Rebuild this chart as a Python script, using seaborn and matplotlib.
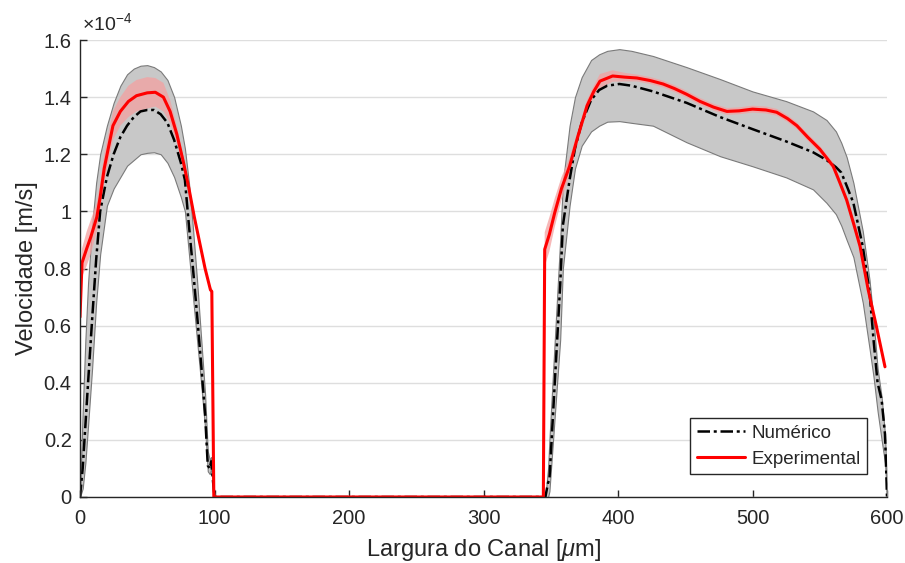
import numpy as np
import pandas as pd
import matplotlib
matplotlib.use("Agg")
import matplotlib.pyplot as plt
import seaborn as sns

# ---- data (velocity in units of 1e-4 m/s) ----
x_num = [0, 2, 4, 6, 9, 12, 15, 20, 25, 30, 35, 40, 45, 50, 55, 60, 65, 70, 75, 78,
         81, 84, 87, 90, 93, 95, 96.5, 97.5, 100,
         346, 348, 349, 357, 359, 364, 368, 373, 380, 386, 392, 401, 410, 426, 451,
         476, 500, 525, 545, 555, 562, 566, 570, 575, 582, 587, 590, 593, 596, 598.5,
         599.5, 600]
y_num = [0, 0.1, 0.25, 0.4, 0.62, 0.83, 1.0, 1.12, 1.2, 1.26, 1.3, 1.33, 1.35, 1.355,
         1.355, 1.34, 1.31, 1.25, 1.17, 1.11, 0.95, 0.8, 0.64, 0.47, 0.29, 0.11, 0.1,
         0.125, 0,
         0, 0.05, 0.06, 0.74, 0.95, 1.11, 1.22, 1.31, 1.39, 1.425, 1.44, 1.446, 1.44,
         1.42, 1.38, 1.33, 1.288, 1.245, 1.207, 1.18, 1.155, 1.136, 1.09, 1.03, 0.877,
         0.72, 0.55, 0.40, 0.34, 0.22, 0.08, 0]
num_hi = [0, 0.3, 0.55, 0.75, 0.95, 1.1, 1.2, 1.3, 1.38, 1.44, 1.48, 1.5, 1.51, 1.512,
          1.505, 1.49, 1.46, 1.4, 1.3, 1.22, 1.1, 0.94, 0.76, 0.56, 0.36, 0.16, 0.13,
          0.14, 0,
          0, 0.1, 0.2, 0.9, 1.1, 1.3, 1.4, 1.47, 1.53, 1.55, 1.562, 1.568, 1.562, 1.544,
          1.505, 1.463, 1.42, 1.386, 1.35, 1.32, 1.28, 1.24, 1.19, 1.1, 0.93, 0.76,
          0.62, 0.45, 0.35, 0.22, 0.1, 0]
num_lo = [0, 0.03, 0.12, 0.25, 0.45, 0.68, 0.85, 1.02, 1.08, 1.12, 1.16, 1.18, 1.2,
          1.205, 1.207, 1.2, 1.17, 1.12, 1.05, 1.0, 0.85, 0.7, 0.55, 0.4, 0.24, 0.09,
          0.08, 0.1, 0,
          0, 0.0, 0.02, 0.55, 0.8, 1.02, 1.15, 1.23, 1.28, 1.3, 1.314, 1.316, 1.31,
          1.3, 1.242, 1.193, 1.158, 1.119, 1.077, 1.03, 0.99, 0.95, 0.9, 0.84, 0.68,
          0.52, 0.42, 0.3, 0.2, 0.12, 0.04, 0]

x_exp = [0, 1.5, 5, 8, 12.5, 15, 18, 21, 24.5, 30, 36, 42, 50, 56, 62, 67, 72, 77,
         81, 85, 89, 93, 97, 98, 99.5,
         344.5, 345.5, 349, 353, 358, 364, 370, 377, 382, 386.6, 396, 405, 414, 424,
         433.5, 442, 451, 461, 471, 481, 490, 500, 510, 518, 526, 533, 541, 550, 560,
         565, 570, 575, 580, 586, 592, 598.5]
y_exp = [0.63, 0.82, 0.87, 0.91, 0.98, 1.05, 1.15, 1.22, 1.3, 1.35, 1.385, 1.405,
         1.415, 1.417, 1.40, 1.35, 1.27, 1.17, 1.08, 0.98, 0.89, 0.80, 0.725, 0.72, 0,
         0, 0.867, 0.92, 0.996, 1.08, 1.158, 1.26, 1.37, 1.42, 1.456, 1.474, 1.47,
         1.467, 1.458, 1.446, 1.43, 1.41, 1.385, 1.365, 1.35, 1.352, 1.358, 1.355,
         1.347, 1.325, 1.30, 1.26, 1.218, 1.158, 1.10, 1.04, 0.96, 0.877, 0.726, 0.6,
         0.456]
exp_err = [0.02, 0.05, 0.06, 0.06, 0.05, 0.05, 0.05, 0.05, 0.05, 0.05, 0.055, 0.055,
           0.055, 0.05, 0.05, 0.04, 0.03, 0.02, 0.02, 0.015, 0.01, 0.01, 0.01, 0.01, 0,
           0, 0.06, 0.06, 0.05, 0.04, 0.03, 0.02, 0.02, 0.02, 0.025, 0.02, 0.015,
           0.012, 0.012, 0.012, 0.012, 0.012, 0.012, 0.012, 0.012, 0.012, 0.012, 0.012,
           0.012, 0.012, 0.012, 0.012, 0.012, 0.012, 0.012, 0.012, 0.012, 0.012, 0.012,
           0.012, 0.012]

x_ticks = [0, 100, 200, 300, 400, 500, 600]
y_ticks = [0, 0.2, 0.4, 0.6, 0.8, 1.0, 1.2, 1.4, 1.6]
y_ticklabels = ["0", "0.2", "0.4", "0.6", "0.8", "1", "1.2", "1.4", "1.6"]

# ---- style ----
sns.set_theme(style="white")
plt.rcParams['font.family'] = ['Liberation Sans', 'DejaVu Sans']
plt.rcParams['mathtext.fontset'] = 'custom'
plt.rcParams['mathtext.rm'] = 'Liberation Sans'
plt.rcParams['mathtext.it'] = 'Liberation Sans:italic'
txt = '#262626'

fig = plt.figure(figsize=(9.05, 5.63), dpi=100)
ax = fig.add_axes([80 / 905, 66 / 563, 807 / 905, 457 / 563])

df_num = pd.DataFrame({'x': x_num, 'y': y_num, 'lo': num_lo, 'hi': num_hi})
df_exp = pd.DataFrame({'x': x_exp, 'y': y_exp, 'e': exp_err})

# bands
ax.fill_between(df_num['x'], df_num['lo'], df_num['hi'], facecolor='#c8c8c8',
                edgecolor='#7a7a7a', linewidth=0.8, zorder=1)
ax.fill_between(df_exp['x'], df_exp['y'] - df_exp['e'], df_exp['y'] + df_exp['e'],
                facecolor='#f4a0a0', edgecolor='none', alpha=0.75, zorder=2)

sns.lineplot(data=df_num, x='x', y='y', ax=ax, color='black', sort=False,
             estimator=None, linewidth=1.8, linestyle=(0, (5, 1.5, 1.2, 1.5)),
             label='Numérico', zorder=3)
sns.lineplot(data=df_exp, x='x', y='y', ax=ax, color='#ff0000', sort=False,
             estimator=None, linewidth=2.2, label='Experimental', zorder=4)

ax.set_xlim(0, 600)
ax.set_ylim(0, 1.6)
ax.set_xticks(x_ticks)
ax.set_yticks(y_ticks)
ax.set_yticklabels(y_ticklabels)
ax.yaxis.grid(True, color='#dedede', linewidth=1.0)
ax.xaxis.grid(False)
ax.set_axisbelow(True)
for s in ['top', 'right']:
    ax.spines[s].set_visible(False)
for s in ['left', 'bottom']:
    ax.spines[s].set_color(txt)
    ax.spines[s].set_linewidth(1.0)
    ax.spines[s].set_zorder(5)
ax.tick_params(direction='in', length=5, width=1.0, colors=txt, labelsize=14.5,
               labelcolor=txt, left=True, bottom=True)
ax.tick_params(axis='x', pad=9)
ax.tick_params(axis='y', pad=6)

ax.set_xlabel(r'Largura do Canal [$\mu$m]', fontsize=17, color=txt, labelpad=6)
ax.set_ylabel('Velocidade [m/s]', fontsize=17, color=txt, labelpad=4)
ax.text(0.003, 1.012, r'$\times$10$^{-4}$', transform=ax.transAxes, fontsize=14,
        color=txt, ha='left', va='bottom')

leg = ax.legend(loc='lower right', bbox_to_anchor=(0.975, 0.05), fontsize=13.5,
                frameon=True, fancybox=False, edgecolor='#262626', framealpha=1,
                handlelength=2.6, borderpad=0.35, labelspacing=0.45, handletextpad=0.3,
                borderaxespad=0)
leg.get_frame().set_linewidth(1.0)
for t in leg.get_texts():
    t.set_color(txt)

fig.savefig('out.png', dpi=100)
